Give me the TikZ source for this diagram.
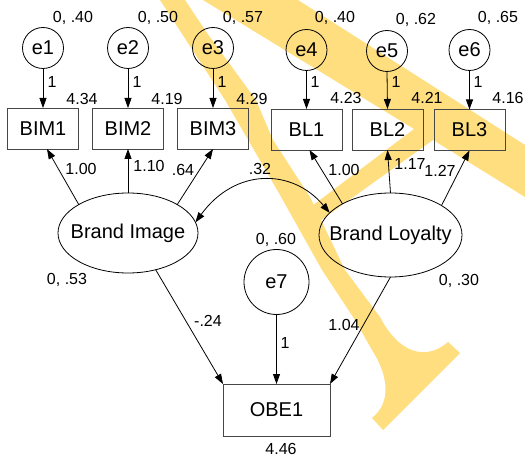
\documentclass[tikz,border=0pt]{standalone}
\usepackage{fontspec}
\setmainfont{Liberation Sans}
\usetikzlibrary{shapes.geometric,arrows.meta}
\definecolor{wmark}{RGB}{255,222,128}
\definecolor{boxline}{RGB}{70,70,70}
\begin{document}
\begin{tikzpicture}[x=1pt,y=-1pt,
  every node/.style={inner sep=0pt,outer sep=0pt},
  obs/.style={draw=boxline,line width=0.9pt,minimum width=71pt,minimum height=41pt,font=\fontsize{20}{24}\selectfont},
  err/.style={circle,draw,line width=0.8pt,minimum size=41pt,font=\fontsize{20}{24}\selectfont},
  lat/.style={ellipse,draw,line width=0.8pt,font=\fontsize{20}{24}\selectfont},
  val/.style={font=\fontsize{16}{19}\selectfont},
  arr/.style={-{Triangle[length=10pt,width=7pt]},line width=0.8pt},
  darr/.style={{Triangle[length=10pt,width=7pt]}-{Triangle[length=10pt,width=7pt]},line width=0.8pt}]
\useasboundingbox (0,0) rectangle (525,457);

% background mark
\fill[wmark] (160,0) -- (225,100) -- (280,195) -- (322,270) -- (355,320) -- (372,350)
  .. controls (388,375) and (392,402) .. (372,418) -- (383,430) -- (460,353) -- (448,342)
  .. controls (425,362) and (398,352) .. (380,317) -- (345,270) -- (310,197) -- (273,140)
  -- (256,100) -- (207,33) -- (185,0) -- cycle;
\fill[wmark] (203,0) -- (298,0) -- (525,145) -- (525,197) -- (433,140) -- (310,228)
  -- (300,215) -- (414,129) -- cycle;

% error terms
\node[err] (e1) at (43,48) {e1};
\node[err] (e2) at (128,48) {e2};
\node[err] (e3) at (213,48) {e3};
\node[err] (e4) at (306.5,50) {e4};
\node[err] (e5) at (387,51) {e5};
\node[err] (e6) at (469.5,50) {e6};
\node[err,minimum size=65pt] (e7) at (276.5,282) {e7};

% observed variables
\node[obs] (BIM1) at (43,128.5) {BIM1};
\node[obs] (BIM2) at (128,128.5) {BIM2};
\node[obs] (BIM3) at (213,128.5) {BIM3};
\node[obs] (BL1) at (306.5,129.5) {BL1};
\node[obs] (BL2) at (387.5,129.5) {BL2};
\node[obs] (BL3) at (469.5,130) {BL3};
\node[obs,minimum width=107pt,minimum height=52pt] (OBE1) at (276.5,410) {OBE1};

% latent variables
\node[lat,minimum width=140pt,minimum height=80pt] (BI) at (128,233) {\makebox[0pt]{Brand Image}};
\node[lat,minimum width=143pt,minimum height=84pt] (BL) at (390.5,235) {\makebox[0pt]{Brand Loyalty}};

% paths
\draw[arr] (e1.south) -- (BIM1.north);
\draw[arr] (e2.south) -- (BIM2.north);
\draw[arr] (e3.south) -- (BIM3.north);
\draw[arr] (e4.south) -- (BL1.north);
\draw[arr] (e5.south) -- (BL2.north);
\draw[arr] (e6.south) -- (BL3.north);
\draw[arr] (BI.150) -- ([xshift=4pt]BIM1.south);
\draw[arr] (BI.north) -- (BIM2.south);
\draw[arr] (BI.30) -- (BIM3.south);
\draw[arr] (BL.147) -- ([xshift=3pt]BL1.south);
\draw[arr] (BL.north) -- (BL2.south);
\draw[arr] (BL.30) -- (BL3.south);
\draw[arr] (BI.-53) -- (OBE1.north west);
\draw[arr] (BL.south) -- (OBE1.north east);
\draw[arr] (e7.south) -- (OBE1.north);
\draw[darr] (BI.9) .. controls (235,168) and (292,168) .. (BL.160);

% estimates
\node[val] (v1) at (73,18) {0, .40};
\node[val] (v2) at (158,18) {0, .50};
\node[val] (v3) at (243,18) {0, .57};
\node[val] (v4) at (335,18) {0, .40};
\node[val] (v5) at (416,20) {0, .62};
\node[val] (v6) at (498,18) {0, .65};
\node[val] (w1) at (52,82) {1};
\node[val] (w2) at (137,82) {1};
\node[val] (w3) at (222,82) {1};
\node[val] (w4) at (315,82) {1};
\node[val] (w5) at (396,82) {1};
\node[val] (w6) at (478,82) {1};
\node[val] (i1) at (82,99) {4.34};
\node[val] (i2) at (167,99) {4.19};
\node[val] (i3) at (252,99) {4.29};
\node[val] (i4) at (346,98) {4.23};
\node[val] (i5) at (427,98) {4.21};
\node[val] (i6) at (508,98) {4.16};
\node[val] (l1) at (81,169) {1.00};
\node[val] (l2) at (149,166) {1.10};
\node[val] (l3) at (183,170) {.64};
\node[val] (c1) at (260,169) {.32};
\node[val] (l4) at (344,170) {1.00};
\node[val] (l5) at (410,164) {1.17};
\node[val] (l6) at (440,171) {1.27};
\node[val] (vBI) at (67,280) {0, .53};
\node[val] (vBL) at (459,281) {0, .30};
\node[val] (v7) at (276,240) {0, .60};
\node[val] (g1) at (208,321) {-.24};
\node[val] (w7) at (285,343) {1};
\node[val] (g2) at (344,325) {1.04};
\node[val] (i7) at (281,449) {4.46};
\end{tikzpicture}
\end{document}
